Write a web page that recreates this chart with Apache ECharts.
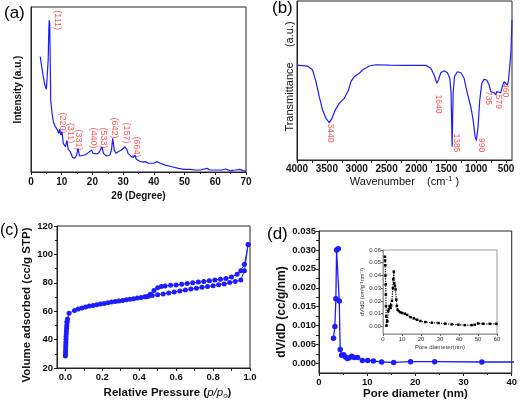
<!DOCTYPE html>
<html><head><meta charset="utf-8">
<script src="https://cdn.jsdelivr.net/npm/echarts@6/dist/echarts.min.js"></script>
<style>html,body{margin:0;padding:0;background:#fff}#c{width:520px;height:402px}</style>
</head><body><div id="c"></div>
<script>
// ---------- (a) XRD ----------
const xrdAngle = [3.0,3.5,4.0,4.5,5.0,5.3,5.6,5.8,5.95,6.1,6.3,6.42,6.85,7.28,7.9,8.6,9.0,9.35,9.7,10.1,10.5,11.2,11.7,12.1,12.5,12.8,13.5,14.2,14.9,15.3,15.8,16.4,17.5,18.4,18.9,19.7,20.2,20.8,21.4,22.1,22.7,23.1,23.6,24.6,25.7,26.2,26.6,27.1,27.6,28.4,28.9,29.4,30.0,30.6,31.0,31.3,31.6,32.2,32.7,33.4,33.8,34.3,35.4,36.5,37.2,37.6,38.3,39.9,41.0,42.1,43.7,45.9,48.0,49.7,51.8,53.5,55.1,57.3,58.4,60.0,62.2,63.3,64.9,66.5,67.9,69.2,70.0];
const xrdIntensity = [69.9,63.8,57.8,52.7,50.1,50.6,67.9,86,92.1,90,62,43.6,35.6,30.5,27.5,25.5,23.4,25.9,22.4,24.4,17.4,15.3,19.0,13.7,14.3,12.3,8.9,8.3,10.3,14.3,9.7,9.3,10.3,11.3,10.7,13.3,11.3,12.3,10.9,11.7,11.7,15.3,11.3,9.7,10.3,13.3,20.4,13.3,11.3,12.3,11.7,13.3,14.3,15.3,16.4,13.3,11.3,11.7,9.3,8.9,10.3,7.7,6.5,6.0,6.3,6.8,5.3,5.3,6.3,5.3,4.2,3.2,2.2,1.6,1.6,1.2,1.2,2.2,1.2,1.2,1.2,1.8,0.8,1.2,1.6,0.8,0.5];
const xrdPeakNames = ['(111)','(220)','(311)','(331)','(440)','(533)','(642)','(157)','(664)'];
const xrdPeakLabelX = [8.5,10.4,12.7,15.6,20.2,23.5,27.1,31.0,34.2];
const xrdPeakLabelY = [92,29.7,23.6,19.4,20.6,20.6,26.7,23.6,15.2];
const xrdTicks = [0,10,20,30,40,50,60,70];

// ---------- (b) FTIR ----------
const irWavenumber = [4000,3823,3739,3682,3627,3572,3515,3460,3415,3360,3293,3209,3137,3097,3042,2958,2903,2791,2679,2457,2177,2000,1843,1759,1704,1659,1632,1592,1537,1481,1441,1420,1403,1386,1364,1314,1257,1202,1147,1090,1051,1018,997,968,940,906,868,823,784,756,701,672,656,589,562,533,505,478,461,438,416,400];
const irTransmittance = [59.7,59.1,56.6,49.3,39.8,31.4,26.2,23.5,26.2,31.4,35.6,38.8,44.0,49.3,52.4,54.5,56.6,59.1,59.9,59.7,59.5,59.6,59.5,57.7,53.5,48.2,50.3,54.9,56.2,54.9,51.4,41.9,8.4,41.9,52.4,55.5,54.9,51.4,41.9,33.5,25.2,14.7,12.2,21.0,37.7,48.2,50.7,50.3,47.2,43.0,42.3,40.9,43.0,42.3,46.1,49.3,48.9,47.2,49.3,58.7,69.2,88.1];
const irBandNames = ['3440','1640','1385','990','735','579','460'];
const irBandLabelX = [3445,1628,1328,912,795,628,512];
const irBandLabelY = [17.0,35.2,10.7,9.4,39.0,36.5,44.0];
const irTickLabels = [500,1000,1500,2000,2500,3000,3500,4000];
const irTicks = [500,750,1000,1250,1500,1750,2000,2250,2500,2750,3000,3250,3500,3750,4000];

// ---------- (c) N2 isotherm ----------
const adsP = [0.0005,0.001,0.0015,0.002,0.0025,0.003,0.0035,0.004,0.005,0.006,0.007,0.008,0.009,0.01,0.012,0.02,0.05,0.07,0.09,0.11,0.13,0.15,0.17,0.19,0.21,0.23,0.25,0.27,0.29,0.31,0.33,0.35,0.37,0.39,0.41,0.43,0.45,0.47,0.50,0.53,0.56,0.59,0.62,0.65,0.68,0.71,0.74,0.77,0.80,0.83,0.86,0.89,0.92,0.95,0.97,0.99];
const adsV = [28.5,30,32,34,36,38,40,42,44,46,48,50,52,53,54.5,58.5,60.5,61.5,62.3,63,63.6,64.1,64.6,65.1,65.5,66,66.4,66.8,67.2,67.6,68,68.4,68.8,69.3,69.7,70.2,70.6,71,71.5,72.1,72.8,73.5,74.3,75,75.6,76.2,76.8,77.4,78,78.6,79.2,80.2,81,82,88.5,107];
const desP = [0.99,0.97,0.95,0.93,0.90,0.87,0.84,0.81,0.78,0.75,0.72,0.69,0.66,0.63,0.60,0.57,0.54,0.52,0.50,0.48,0.46,0.44];
const desV = [107,93,88.5,86,84,83,82.5,82,81.5,81,80.5,80,79.5,79,78.5,78.2,77.8,77.4,76.5,74.5,72,70.2];
const isoXLabels = [0,0.2,0.4,0.6,0.8,1.0];
const isoXTicks = [0,0.1,0.2,0.3,0.4,0.5,0.6,0.7,0.8,0.9,1.0];

// ---------- (d) pore size distribution ----------
const poreD = [3.0,3.3,3.5,3.65,4.0,4.2,4.4,4.7,5.1,5.5,5.9,6.3,6.8,7.3,8.0,9.0,10.1,11.3,13.0,15.5,19.0,24.0,33.8,42];
const poreDV = [0.0067,0.0098,0.0171,0.0300,0.0303,0.0165,0.0037,0.0022,0.0023,0.0017,0.0013,0.0015,0.0019,0.0016,0.0016,0.0008,0.0008,0.0007,0.0004,0.0003,0.0005,0.0005,0.0004,0.0004];
const poreYLabels = [0,0.005,0.010,0.015,0.020,0.025,0.030,0.035];
const poreYTicks = [0,0.0025,0.005,0.0075,0.010,0.0125,0.015,0.0175,0.020,0.0225,0.025,0.0275,0.030,0.0325,0.035];
// inset
const insetD = [1.0,1.1,1.2,1.3,1.4,1.5,1.6,1.7,1.8,2.3,2.8,3.1,3.5,4.0,4.3,4.7,5.2,5.4,5.7,5.9,6.3,6.6,7.0,7.3,7.7,8.3,9.2,10.1,11.5,12.7,14.4,16.2,17.9,19.7,22.3,25.7,29.2,32.7,36.2,39.7,43.1,46.6,48.3,50.1,52.7,56.2,59.7];
const insetDV = [0.0547,0.0517,0.048,0.040,0.033,0.025,0.016,0.008,0.0005,0.004,0.012,0.0135,0.016,0.0145,0.0165,0.020,0.030,0.037,0.043,0.034,0.032,0.029,0.021,0.016,0.013,0.012,0.011,0.0105,0.010,0.009,0.0073,0.0063,0.0052,0.0042,0.0034,0.0029,0.0026,0.0021,0.0016,0.0013,0.001,0.001,0.0013,0.0023,0.002,0.002,0.002];
const insetYLabels = [0,0.01,0.02,0.03,0.04,0.05,0.06];

// ---------- build ----------
const FONT = "'Liberation Sans', Arial, sans-serif";
const BLUE = '#1c1cff';
const AX = '#222';
const zip = (a, b) => a.map((v, i) => [v, b[i]]);

function baseAxis(grid, extra) {
  return Object.assign({
    gridIndex: grid, type: 'value',
    axisLine: { show: true, onZero: false, lineStyle: { color: AX, width: 1 } },
    axisTick: { show: true, inside: false, length: 3, lineStyle: { color: AX } },
    splitLine: { show: false },
    axisLabel: { color: '#111', fontFamily: FONT, fontWeight: 'bold', fontSize: 10, margin: 4 },
    nameLocation: 'middle',
    nameTextStyle: { color: '#111', fontFamily: FONT, fontWeight: 'bold', fontSize: 11.5 }
  }, extra);
}

const option = {
  animation: false,
  backgroundColor: '#fff',
  grid: [
    { left: 31, top: 7, width: 215, height: 165, show: true, borderColor: AX, borderWidth: 1 },
    { left: 297, top: 1, width: 215, height: 159, show: true, borderColor: AX, borderWidth: 1 },
    { left: 57, top: 226, width: 193, height: 142, show: true, borderColor: AX, borderWidth: 1 },
    { left: 319, top: 231, width: 197, height: 142, show: true, borderColor: AX, borderWidth: 1 },
    { left: 383, top: 250, width: 114, height: 84, show: true, borderColor: '#999', borderWidth: 1, backgroundColor: '#fff' }
  ],
  xAxis: [
    baseAxis(0, { min: 0, max: 70, interval: 10,
      minorTick: { show: true, splitNumber: 2, length: 2, lineStyle: { color: AX } },
      axisLabel: { color: '#111', fontFamily: FONT, fontWeight: 'bold', fontSize: 10, margin: 5,
        customValues: xrdTicks },
      name: '2θ (Degree)', nameGap: 19,
      nameTextStyle: { color: '#111', fontFamily: FONT, fontWeight: 'bold', fontSize: 10 } }),
    baseAxis(1, { min: 400, max: 4000, inverse: true,
      axisLabel: { color: '#111', fontFamily: FONT, fontWeight: 'bold', fontSize: 10, margin: 4,
        customValues: irTickLabels, formatter: v => String(v) },
      axisTick: { show: true, length: 3, lineStyle: { color: AX }, customValues: irTicks },
      name: '{a|Wavenumber    (cm}{s|-1}{a| )}', nameGap: 14,
      nameTextStyle: { rich: {
        a: { fontFamily: FONT, fontSize: 11, color: '#111', lineHeight: 14 },
        s: { fontFamily: FONT, fontSize: 8, color: '#111', verticalAlign: 'top', lineHeight: 14 } } } }),
    baseAxis(2, { min: -0.045, max: 1.0,
      axisLabel: { color: '#111', fontFamily: FONT, fontWeight: 'bold', fontSize: 9.5, margin: 4,
        customValues: isoXLabels, formatter: v => v.toFixed(1) },
      axisTick: { show: true, length: 3, lineStyle: { color: AX }, customValues: isoXTicks },
      name: '{a|Relative Pressure (}{i|p/p}{s|o}{a|)}', nameGap: 17,
      nameTextStyle: { padding: [0, 0, 0, 28], rich: {
        a: { fontFamily: FONT, fontWeight: 'bold', fontSize: 11.5, color: '#111', lineHeight: 15 },
        i: { fontFamily: FONT, fontStyle: 'italic', fontSize: 11.5, color: '#111', lineHeight: 15 },
        s: { fontFamily: FONT, fontStyle: 'italic', fontSize: 8, color: '#111', verticalAlign: 'bottom', lineHeight: 15 } } } }),
    baseAxis(3, { min: 0, max: 40, interval: 10,
      minorTick: { show: true, splitNumber: 2, length: 2, lineStyle: { color: AX } },
      axisLabel: { color: '#111', fontFamily: FONT, fontWeight: 'bold', fontSize: 9.5, margin: 4 },
      name: 'Pore diameter (nm)', nameGap: 14 }),
    baseAxis(4, { min: 0, max: 60, interval: 10,
      axisLine: { show: true, onZero: false, lineStyle: { color: '#999' } },
      axisTick: { show: true, length: 2, lineStyle: { color: '#666' } },
      axisLabel: { color: '#333', fontFamily: FONT, fontSize: 6, margin: 2 },
      name: 'Pore diameter(nm)', nameGap: 10,
      nameTextStyle: { color: '#333', fontFamily: FONT, fontSize: 6 } })
  ],
  yAxis: [
    baseAxis(0, { min: 0, max: 100, axisTick: { show: false }, axisLabel: { show: false },
      name: 'Intensity (a.u.)', nameGap: 8,
      nameTextStyle: { color: '#111', fontFamily: FONT, fontWeight: 'bold', fontSize: 10 } }),
    baseAxis(1, { min: 0, max: 100, axisTick: { show: false }, axisLabel: { show: false },
      name: 'Transmittance     (a.u.)', nameGap: 2,
      nameTextStyle: { color: '#111', fontFamily: FONT, fontSize: 11, padding: [0, 0, 0, 8] } }),
    baseAxis(2, { min: 20, max: 120, interval: 20,
      minorTick: { show: true, splitNumber: 2, length: 2, lineStyle: { color: AX } },
      axisLabel: { color: '#111', fontFamily: FONT, fontWeight: 'bold', fontSize: 9.5, margin: 4 },
      name: 'Volume adsorbed (cc/g STP)', nameGap: 23,
      nameTextStyle: { color: '#111', fontFamily: FONT, fontWeight: 'bold', fontSize: 11.5, padding: [0, 16, 0, 0] } }),
    baseAxis(3, { min: -0.0025, max: 0.035,
      axisLabel: { color: '#111', fontFamily: FONT, fontWeight: 'bold', fontSize: 9.5, margin: 3,
        customValues: poreYLabels, formatter: v => v.toFixed(3) },
      axisTick: { show: true, length: 3, lineStyle: { color: AX }, customValues: poreYTicks },
      name: 'dV/dD (cc/g/nm)', nameGap: 31,
      nameTextStyle: { color: '#111', fontFamily: FONT, fontWeight: 'bold', fontSize: 12, padding: [0, 20, 0, 0] } }),
    baseAxis(4, { min: -0.006, max: 0.06,
      axisLine: { show: true, onZero: false, lineStyle: { color: '#999' } },
      axisTick: { show: true, length: 2, lineStyle: { color: '#666' }, customValues: insetYLabels },
      axisLabel: { color: '#333', fontFamily: FONT, fontSize: 6, margin: 2,
        customValues: insetYLabels, formatter: v => v.toFixed(2) },
      name: 'dV/dD (cm³g⁻¹nm⁻¹)', nameGap: 16,
      nameTextStyle: { color: '#333', fontFamily: FONT, fontSize: 5.5 } })
  ],
  series: [
    { type: 'line', xAxisIndex: 0, yAxisIndex: 0, data: zip(xrdAngle, xrdIntensity),
      showSymbol: false, lineStyle: { color: BLUE, width: 1.2 }, clip: true },
    { type: 'scatter', xAxisIndex: 0, yAxisIndex: 0, symbolSize: 1, itemStyle: { color: 'transparent' },
      data: xrdPeakLabelX.map((x, i) => [x, xrdPeakLabelY[i], xrdPeakNames[i]]),
      label: { show: true, position: 'inside', rotate: -90, formatter: p => p.data[2],
        color: '#ff2a2a', fontFamily: FONT, fontSize: 9 } },
    { type: 'line', xAxisIndex: 1, yAxisIndex: 1, data: zip(irWavenumber, irTransmittance),
      showSymbol: false, lineStyle: { color: BLUE, width: 1.2 }, clip: true },
    { type: 'scatter', xAxisIndex: 1, yAxisIndex: 1, symbolSize: 1, itemStyle: { color: 'transparent' },
      data: irBandLabelX.map((x, i) => [x, irBandLabelY[i], irBandNames[i]]),
      label: { show: true, position: 'inside', rotate: -90, formatter: p => p.data[2],
        color: '#ff2a2a', fontFamily: FONT, fontSize: 8.5 } },
    { type: 'line', xAxisIndex: 2, yAxisIndex: 2, data: zip(adsP, adsV),
      symbol: 'circle', symbolSize: 5, itemStyle: { color: BLUE }, lineStyle: { color: BLUE, width: 1 } },
    { type: 'line', xAxisIndex: 2, yAxisIndex: 2, data: zip(desP, desV),
      symbol: 'circle', symbolSize: 5, itemStyle: { color: BLUE }, lineStyle: { color: BLUE, width: 1 } },
    { type: 'line', xAxisIndex: 3, yAxisIndex: 3, data: zip(poreD, poreDV), clip: true,
      symbol: 'circle', symbolSize: 5.5, itemStyle: { color: BLUE }, lineStyle: { color: BLUE, width: 1.3 } },
    { type: 'line', xAxisIndex: 4, yAxisIndex: 4, data: zip(insetD, insetDV),
      symbol: 'rect', symbolSize: 2.5, itemStyle: { color: '#000' },
      lineStyle: { color: '#000', width: 1.2, type: 'dotted' } }
  ],
  graphic: [
    { type: 'text', left: 4, top: 5, style: { text: '(a)', font: "17px 'Liberation Sans', Arial", fill: '#000' } },
    { type: 'text', left: 272, top: 0, style: { text: '(b)', font: "17px 'Liberation Sans', Arial", fill: '#000' } },
    { type: 'text', left: 0, top: 223, style: { text: '(c)', font: "16px 'Liberation Sans', Arial", fill: '#000' } },
    { type: 'text', left: 267, top: 226, style: { text: '(d)', font: "17px 'Liberation Sans', Arial", fill: '#000' } }
  ]
};

const chart = echarts.init(document.getElementById('c'), null, { renderer: 'canvas' });
chart.setOption(option);
</script>
</body></html>
